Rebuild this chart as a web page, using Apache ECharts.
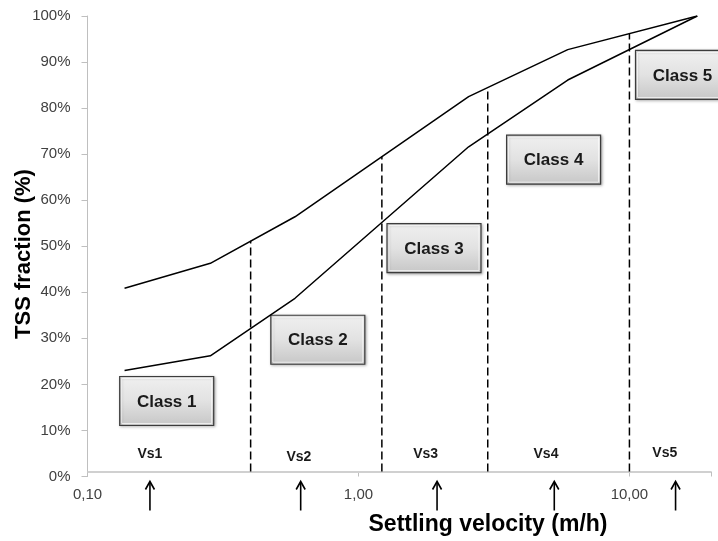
<!DOCTYPE html>
<html>
<head>
<meta charset="utf-8">
<script src="https://cdn.jsdelivr.net/npm/echarts@6/dist/echarts.min.js"></script>
<style>
  html, body { margin: 0; padding: 0; background: #fff; }
  #chart { width: 718px; height: 541px; }
</style>
</head>
<body>
<div id="chart"></div>
<script>
// Settling velocity (m/h) at the break points of both cumulative curves
const velocities = [0.137, 0.284, 0.583, 2.55, 5.92, 17.8];
// Cumulative TSS fraction (%) – upper and lower envelope
const upperCurve = [40.9, 46.3, 56.4, 82.5, 92.7, 100];
const lowerCurve = [23.0, 26.2, 38.7, 71.6, 86.1, 100];

// Class boundaries (m/h) and the height where each boundary meets the upper curve
const boundaries = [0.4, 1.22, 3.0, 10];
const boundaryTops = [51.2, 69.5, 84.5, 96.2];
const axisCross = 1.1;

// Class boxes: label, anchor velocity, anchor fraction
const classNames = ['Class 1', 'Class 2', 'Class 3', 'Class 4', 'Class 5'];
const classX = [0.196, 0.708, 1.90, 5.25, 15.7];
const classY = [16.4, 29.7, 49.6, 68.8, 87.2];

// Representative velocity labels and their arrows
const vsNames = ['Vs1', 'Vs2', 'Vs3', 'Vs4', 'Vs5'];
const vsLabelX = [0.170, 0.603, 1.77, 4.92, 13.5];
const vsLabelY = [4.9, 4.2, 4.9, 4.9, 5.1];
const vsArrowX = [0.170, 0.612, 1.95, 5.28, 14.8];

const FONT = '"Liberation Sans", Arial, sans-serif';

const chart = echarts.init(document.getElementById('chart'), null, { renderer: 'canvas' });

const pairs = (xs, ys) => xs.map((x, i) => [x, ys[i]]);

const dashedSeries = boundaries.map((b, i) => ({
  type: 'line',
  data: [[b, axisCross], [b, boundaryTops[i]]],
  symbol: 'none',
  silent: true,
  lineStyle: { color: '#000', width: 1.5, type: [8, 4] },
  z: 3
}));

chart.setOption({
  animation: false,
  grid: { left: 87.5, right: 7, top: 16, bottom: 64.5, containLabel: false },
  xAxis: {
    type: 'log',
    logBase: 10,
    min: 0.1,
    max: 20,
    axisLine: { show: false },
    axisTick: { show: true, inside: true, length: 5, lineStyle: { color: '#bfbfbf', width: 1 } },
    splitLine: { show: false },
    minorTick: { show: false },
    axisLabel: {
      margin: 11,
      color: '#404040',
      fontFamily: FONT,
      fontSize: 15,
      formatter: v => (Math.abs(Math.log10(v) - Math.round(Math.log10(v))) < 1e-6) ? v.toFixed(2).replace('.', ',') : ''
    }
  },
  yAxis: {
    type: 'value',
    min: 0,
    max: 100,
    interval: 10,
    axisLine: { show: true, lineStyle: { color: '#bfbfbf', width: 1 } },
    axisTick: { show: true, length: 6, lineStyle: { color: '#bfbfbf' } },
    splitLine: { show: false },
    axisLabel: {
      margin: 17,
      color: '#404040',
      fontFamily: FONT,
      fontSize: 15,
      formatter: '{value}%'
    }
  },
  series: [
    {
      type: 'line',
      data: pairs(velocities, upperCurve),
      symbol: 'none',
      lineStyle: { color: '#000', width: 1.5 },
      z: 4,
      markLine: {
        silent: true,
        symbol: 'none',
        label: { show: false },
        lineStyle: { color: '#d0d0d0', width: 2, type: 'solid' },
        data: [{ yAxis: axisCross }],
        z: 1
      }
    },
    {
      type: 'line',
      data: pairs(velocities, lowerCurve),
      symbol: 'none',
      lineStyle: { color: '#000', width: 1.5 },
      z: 4
    },
    ...dashedSeries
  ]
});

// Annotations placed in data coordinates
const toPx = (x, y) => chart.convertToPixel({ gridIndex: 0 }, [x, y]);
const graphics = [];

classNames.forEach((name, i) => {
  const [cx, cy] = toPx(classX[i], classY[i]);
  const w = 94, h = 49;
  graphics.push({
    type: 'group',
    x: cx - w / 2,
    y: cy - h / 2,
    z: 10,
    children: [
      {
        type: 'rect',
        shape: { x: 0, y: 0, width: w, height: h },
        style: {
          fill: new echarts.graphic.LinearGradient(0, 0, 0, 1, [
            { offset: 0, color: '#f0f0f0' },
            { offset: 0.5, color: '#e2e2e2' },
            { offset: 1, color: '#c6c6c6' }
          ]),
          stroke: '#3c3c3c',
          lineWidth: 1.2,
          shadowBlur: 3,
          shadowColor: 'rgba(0,0,0,0.35)',
          shadowOffsetX: 1,
          shadowOffsetY: 1
        }
      },
      {
        type: 'rect',
        shape: { x: 2, y: 2, width: w - 4, height: h - 4 },
        style: { fill: 'none', stroke: 'rgba(255,255,255,0.7)', lineWidth: 1 }
      },
      {
        type: 'text',
        x: w / 2,
        y: h / 2 + 1,
        style: {
          text: name,
          font: 'bold 17px ' + FONT,
          fill: '#1a1a1a',
          align: 'center',
          verticalAlign: 'middle'
        }
      }
    ]
  });
});

vsNames.forEach((name, i) => {
  const [lx, ly] = toPx(vsLabelX[i], vsLabelY[i]);
  graphics.push({
    type: 'text',
    x: lx,
    y: ly,
    z: 10,
    style: { text: name, font: 'bold 14px ' + FONT, fill: '#1a1a1a', align: 'center', verticalAlign: 'middle' }
  });
  const [ax, ay0] = toPx(vsArrowX[i], 0);
  const top = ay0 + 5, bottom = ay0 + 34;
  graphics.push({
    type: 'group',
    z: 10,
    children: [
      { type: 'line', shape: { x1: ax, y1: top + 1, x2: ax, y2: bottom }, style: { stroke: '#000', lineWidth: 1.6 } },
      { type: 'polyline', shape: { points: [[ax - 4.5, top + 8], [ax, top], [ax + 4.5, top + 8]] }, style: { stroke: '#000', lineWidth: 1.6, fill: 'none' } }
    ]
  });
});

graphics.push({
  type: 'text',
  x: 488,
  y: 525,
  style: { text: 'Settling velocity (m/h)', font: 'bold 23px ' + FONT, fill: '#000', align: 'center', verticalAlign: 'middle' }
});
graphics.push({
  type: 'text',
  x: 24,
  y: 254,
  rotation: Math.PI / 2,
  style: { text: 'TSS fraction (%)', font: 'bold 22px ' + FONT, fill: '#000', align: 'center', verticalAlign: 'middle' }
});

chart.setOption({ graphic: graphics });
</script>
</body>
</html>
